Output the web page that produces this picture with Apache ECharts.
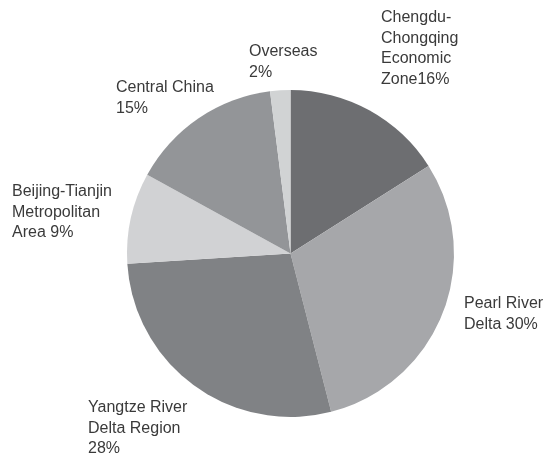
<!DOCTYPE html>
<html>
<head>
<meta charset="utf-8">
<script src="https://cdn.jsdelivr.net/npm/echarts@6/dist/echarts.min.js"></script>
<style>html,body{margin:0;padding:0;background:#fff}#c{width:550px;height:456px}</style>
</head>
<body>
<div id="c"></div>
<script>
var labelNames = ["Chengdu-\nChongqing\nEconomic\nZone", "Pearl River\nDelta ", "Yangtze River\nDelta Region\n", "Beijing-Tianjin\nMetropolitan\nArea ", "Central China\n", "Overseas\n"];
var shares = [16, 30, 28, 9, 15, 2];
var sliceColors = ["#6d6e71", "#a6a7aa", "#808285", "#d1d2d4", "#939598", "#d1d3d4"];
var labelPos = [[381, 7.5], [464, 293.5], [88, 397.5], [12, 181.5], [116, 77.5], [249, 41.5]];

var chart = echarts.init(document.getElementById('c'), null, {renderer: 'canvas'});
chart.setOption({
  animation: false,
  series: [{
    type: 'pie',
    center: [290.5, 253.5],
    radius: [0, 163.5],
    startAngle: 90,
    clockwise: true,
    data: shares.map(function (v, i) {
      return {value: v, name: labelNames[i], itemStyle: {color: sliceColors[i]}};
    }),
    itemStyle: {borderWidth: 0},
    label: {
      show: true,
      position: 'outside',
      formatter: function (p) { return p.name + p.value + '%'; },
      fontFamily: 'Liberation Sans',
      fontSize: 16,
      lineHeight: 20.5,
      color: '#3a3a3a',
      overflow: 'none',
      width: 300
    },
    labelLine: {show: false},
    labelLayout: function (params) {
      var p = labelPos[params.dataIndex];
      return {x: p[0], y: p[1], align: 'left', verticalAlign: 'top', hideOverlap: false};
    },
    emphasis: {disabled: true}
  }]
});
</script>
</body>
</html>
